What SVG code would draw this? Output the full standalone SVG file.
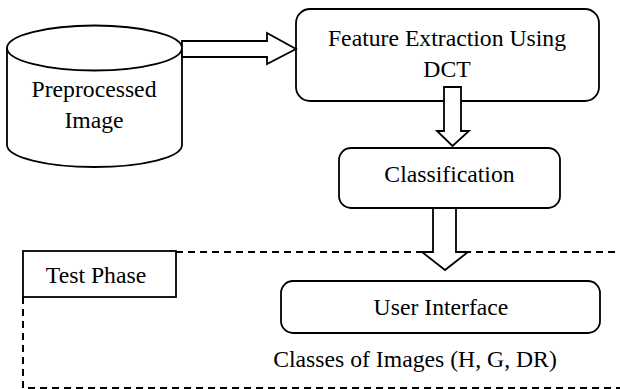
<svg xmlns="http://www.w3.org/2000/svg" width="620" height="389" viewBox="0 0 620 389">
<style>
.s{fill:#fff;stroke:#000;stroke-width:1.8;stroke-linejoin:miter}
.t{font-family:"Liberation Serif","Times New Roman",serif;font-size:23.7px;fill:#000;text-anchor:middle}
.d{fill:none;stroke:#000;stroke-width:2;stroke-dasharray:7 5}
</style>
<rect width="620" height="389" fill="#fff"/>
<g id="test-phase-frame">
<path class="d" d="M176 252H617"/>
<path class="d" d="M23 297V388H620"/>
</g>
<g id="preprocessed-image">
<path class="s" d="M7 48V145A87.5 22 0 0 0 182 145V48"/>
<ellipse class="s" cx="94.5" cy="48" rx="87.5" ry="22.5"/>
<text class="t" x="94" y="97">Preprocessed</text>
<text class="t" x="94" y="128">Image</text>
</g>
<g id="feature-extraction">
<rect class="s" x="296" y="9" width="303" height="92" rx="14"/>
<text class="t" x="447" y="46">Feature Extraction Using</text>
<text class="t" x="447" y="77">DCT</text>
</g>
<g id="classification">
<rect class="s" x="339" y="148" width="221" height="60" rx="12"/>
<text class="t" x="449.5" y="182">Classification</text>
</g>
<g id="test-phase">
<rect class="s" x="23" y="251" width="153" height="46"/>
<text class="t" x="96" y="283">Test Phase</text>
</g>
<g id="user-interface">
<rect class="s" x="281" y="281" width="319" height="52" rx="12"/>
<text class="t" x="441" y="315">User Interface</text>
</g>
<g id="classes-label">
<text class="t" x="415" y="367">Classes of Images (H, G, DR)</text>
</g>
<g id="connectors">
<polygon class="s" points="182,41 267,41 267,33 296,49 267,64 267,57 182,57"/>
<polygon class="s" points="444,87 461,87 461,131 469,131 452.5,146 437,131 444,131"/>
<polygon class="s" points="433,208 456,208 456,252 468,252 445,270 422,252 433,252"/>
</g>
</svg>
